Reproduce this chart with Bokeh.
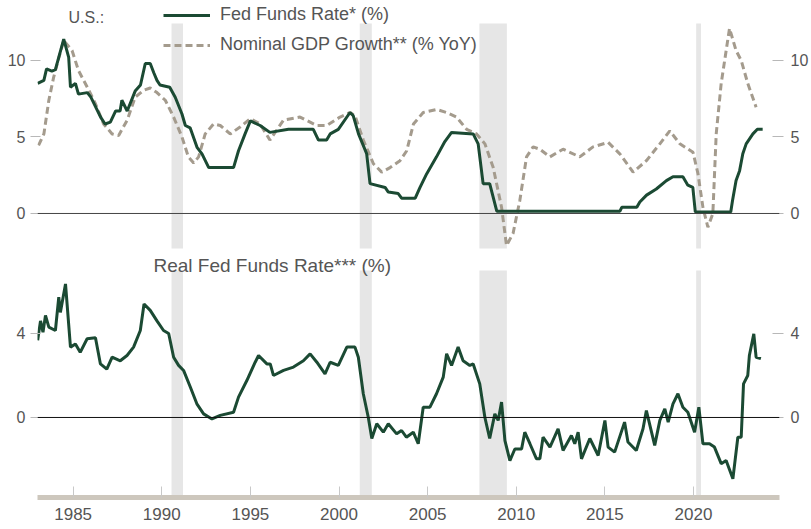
from bokeh.plotting import figure
from bokeh.models import Range1d, FixedTicker, LinearAxis, Span, Label, Legend, LegendItem
from bokeh.layouts import column
from bokeh.embed import file_html
from bokeh.resources import INLINE

# ---------------- data ----------------
ff_year = [1983.0, 1983.35, 1983.5, 1983.8, 1984.0, 1984.47, 1984.75, 1984.85, 1985.13, 1985.3,
           1985.8, 1986.0, 1986.55, 1986.8, 1987.1, 1987.4, 1987.65, 1987.75, 1988.05, 1988.5,
           1988.8, 1989.07, 1989.35, 1989.55, 1989.73, 1989.9, 1990.45, 1990.76, 1991.14, 1991.33,
           1991.6, 1992.0, 1992.27, 1992.65, 1994.05, 1994.33, 1994.7, 1995.0, 1995.55, 1996.1,
           1997.15, 1998.55, 1998.84, 1999.3, 1999.5, 1999.96, 2000.62, 2000.8, 2001.1, 2001.56,
           2001.75, 2002.6, 2002.78, 2003.34, 2003.53, 2004.3, 2004.57, 2004.95, 2005.5, 2005.97,
           2006.35, 2007.57, 2007.85, 2008.13, 2008.5, 2008.9, 2015.85, 2015.95, 2016.8, 2016.97,
           2017.35, 2017.9, 2018.47, 2018.84, 2019.4, 2019.68, 2019.96, 2020.1, 2022.1, 2022.2,
           2022.4, 2022.6, 2022.78, 2022.97, 2023.35, 2023.6, 2023.9]
ff_val = [8.5, 8.7, 9.45, 9.3, 9.4, 11.4, 10.2, 8.25, 8.5, 7.8,
          7.9, 7.6, 6.3, 5.85, 5.97, 6.7, 6.7, 7.4, 6.7, 8.0,
          8.4, 9.8, 9.8, 9.2, 8.7, 8.4, 8.25, 7.6, 6.5, 5.75,
          5.6, 4.3, 3.9, 3.0, 3.0, 4.1, 5.2, 6.05, 5.75, 5.3,
          5.5, 5.5, 4.8, 4.8, 5.2, 5.5, 6.6, 6.4, 5.2, 3.9,
          1.95, 1.7, 1.4, 1.3, 1.0, 1.0, 1.7, 2.6, 3.7, 4.7,
          5.3, 5.2, 4.55, 1.95, 1.95, 0.15, 0.15, 0.4, 0.4, 0.75,
          1.2, 1.6, 2.15, 2.4, 2.4, 1.85, 1.7, 0.1, 0.1, 0.85,
          2.15, 2.8, 3.9, 4.55, 5.2, 5.5, 5.5]

gdp_year = [1983.05, 1983.35, 1983.63, 1983.9, 1984.2, 1984.47, 1984.94, 1985.3, 1985.8, 1986.25,
            1986.72, 1987.2, 1987.57, 1988.05, 1988.5, 1988.98, 1989.35, 1989.73, 1990.2, 1990.67,
            1991.14, 1991.5, 1991.8, 1992.08, 1992.45, 1992.92, 1993.3, 1993.86, 1994.42, 1994.99,
            1995.55, 1996.1, 1996.87, 1997.8, 1998.75, 1999.3, 2000.06, 2000.62, 2000.9, 2001.37,
            2001.94, 2002.41, 2002.88, 2003.44, 2003.82, 2004.2, 2004.75, 2005.5, 2006.07, 2006.63,
            2007.2, 2007.76, 2008.23, 2008.7, 2009.17, 2009.45, 2009.82, 2010.2, 2010.58, 2010.95,
            2011.33, 2011.9, 2012.64, 2013.58, 2014.33, 2015.18, 2015.84, 2016.59, 2017.34, 2018.1,
            2018.66, 2019.23, 2019.97, 2020.25, 2020.53, 2020.81, 2021.09, 2021.28, 2021.56, 2022.03,
            2022.4, 2022.69, 2023.06, 2023.53]
gdp_val = [4.45, 5.2, 7.4, 8.9, 10.2, 11.3, 10.65, 9.35, 8.25, 7.2,
           5.85, 5.2, 5.1, 6.1, 7.6, 8.05, 8.2, 7.9, 7.4, 6.3,
           5.0, 3.7, 3.3, 3.7, 5.2, 5.85, 5.75, 5.2, 5.65, 6.2,
           5.85, 4.8, 6.1, 6.3, 5.75, 5.75, 6.3, 6.6, 6.4, 4.8,
           3.25, 2.7, 3.0, 3.45, 4.1, 5.85, 6.6, 6.8, 6.6, 6.3,
           5.5, 5.2, 4.55, 3.0, 0.4, -2.1, -1.3, 0.85, 3.7, 4.35,
           4.2, 3.7, 4.2, 3.7, 4.35, 4.65, 3.9, 2.7, 3.45, 4.55,
           5.4, 4.55, 4.0, 2.6, 0.4, -0.9, 0.0, 5.2, 8.5, 12.1,
           10.65, 10.0, 8.5, 6.95]

real_year = [1983.0, 1983.16, 1983.3, 1983.44, 1983.63, 1984.0, 1984.19, 1984.28, 1984.57, 1984.85,
             1985.13, 1985.4, 1985.79, 1986.26, 1986.54, 1986.9, 1987.2, 1987.66, 1988.04, 1988.41,
             1988.79, 1989.0, 1989.35, 1989.73, 1990.1, 1990.39, 1990.67, 1990.95, 1991.23, 1991.61,
             1991.98, 1992.36, 1992.83, 1993.3, 1994.05, 1994.33, 1994.8, 1995.27, 1995.46, 1995.93,
             1996.12, 1996.3, 1996.87, 1997.43, 1997.99, 1998.37, 1998.75, 1999.21, 1999.5, 1999.96,
             2000.44, 2000.9, 2001.09, 2001.37, 2001.65, 2001.85, 2002.13, 2002.5, 2002.78, 2003.25,
             2003.53, 2003.8, 2004.19, 2004.47, 2004.75, 2005.13, 2005.5, 2005.88, 2006.07, 2006.35,
             2006.72, 2007.0, 2007.38, 2007.57, 2007.94, 2008.23, 2008.5, 2008.79, 2008.98, 2009.17,
             2009.36, 2009.64, 2009.92, 2010.3, 2010.48, 2010.77, 2011.14, 2011.33, 2011.51, 2011.9,
             2012.36, 2012.64, 2013.11, 2013.3, 2013.49, 2013.68, 2014.15, 2014.62, 2015.0, 2015.18,
             2015.55, 2016.11, 2016.3, 2016.77, 2017.15, 2017.34, 2017.81, 2018.1, 2018.38, 2018.57,
             2018.84, 2019.12, 2019.4, 2019.68, 2020.06, 2020.3, 2020.53, 2020.9, 2021.18, 2021.56,
             2021.84, 2022.22, 2022.5, 2022.69, 2022.82, 2023.06, 2023.15, 2023.4, 2023.53, 2023.8]
real_val = [3.67, 4.6, 4.06, 4.86, 4.3, 4.14, 5.73, 5.0, 6.36, 3.35,
            3.5, 3.1, 3.75, 3.8, 2.55, 2.3, 2.87, 2.7, 2.95, 3.35,
            4.14, 5.4, 5.1, 4.6, 4.14, 4.0, 2.87, 2.48, 2.24, 1.45,
            0.65, 0.17, -0.07, 0.1, 0.25, 0.97, 1.76, 2.63, 2.95, 2.55,
            2.55, 2.0, 2.24, 2.4, 2.7, 3.03, 2.63, 2.08, 2.63, 2.48,
            3.35, 3.35, 2.87, 1.13, 0.01, -1.0, -0.3, -0.7, -0.3, -0.78,
            -0.62, -0.94, -0.7, -1.25, 0.49, 0.49, 1.13, 1.92, 3.03, 2.48,
            3.35, 2.7, 2.48, 2.55, 1.6, 0.0, -1.0, 0.17, -0.14, 0.73,
            -1.1, -2.05, -1.5, -1.5, -0.7, -1.25, -1.97, -1.97, -0.94, -1.41,
            -0.54, -1.57, -0.86, -1.25, -0.7, -1.97, -1.0, -1.81, -0.14, -1.41,
            -1.65, -0.22, -1.17, -1.57, -0.54, 0.33, -1.33, -0.14, 0.41, -0.22,
            0.65, 1.13, 0.49, 0.25, -0.7, 0.49, -1.25, -1.25, -1.41, -2.2,
            -2.05, -2.92, -0.94, -0.94, 1.6, 2.0, 2.95, 3.98, 2.87, 2.8]

rec_start = [1990.55, 2001.17, 2007.92, 2020.15]
rec_end = [1991.2, 2001.85, 2009.47, 2020.42]

top_ticks = [0, 5, 10]
bottom_ticks = [0, 4]
year_ticks = [1985, 1990, 1995, 2000, 2005, 2010, 2015, 2020]

# ---------------- style ----------------
GREEN = "#1b4a33"
GDPC = "#a49b8d"
TXT = "#555555"
FONT = "Liberation Sans"
BAND = "#e6e6e6"

x_range = Range1d(1982.99, 2024.85)


def style_yaxis(ax, side):
    ax.axis_line_color = None
    ax.major_tick_line_color = "#b8b8b8"
    ax.minor_tick_line_color = None
    ax.major_label_text_font = FONT
    ax.major_label_text_font_size = "16px"
    ax.major_label_text_color = TXT
    if side == "left":
        ax.major_tick_out = 7
        ax.major_tick_in = 3
        ax.major_label_standoff = 5
    else:
        ax.major_tick_out = 4
        ax.major_tick_in = 7
        ax.major_label_standoff = 7


# ---------------- top panel ----------------
p1 = figure(width=811, height=250, x_range=x_range, y_range=Range1d(-2.42, 13.92),
            x_axis_type=None, y_axis_type=None, output_backend="svg", toolbar_location=None,
            min_border_left=37, min_border_right=31, min_border_top=0, min_border_bottom=0)
p1.outline_line_color = None
p1.background_fill_color = "white"
p1.border_fill_color = "white"

for side in ("left", "right"):
    ax = LinearAxis(ticker=FixedTicker(ticks=top_ticks))
    style_yaxis(ax, side)
    p1.add_layout(ax, side)

p1.quad(left=rec_start, right=rec_end, bottom=-2.29, top=12.42, fill_color=BAND, line_color=None)
p1.add_layout(Span(location=0, dimension="width", line_color="#444444", line_width=1))

r_gdp = p1.line(gdp_year, gdp_val, line_color=GDPC, line_width=3, line_dash="7 4")
r_ff = p1.line(ff_year, ff_val, line_color=GREEN, line_width=3)

legend = Legend(items=[LegendItem(label="Fed Funds Rate* (%)", renderers=[r_ff]),
                       LegendItem(label="Nominal GDP Growth** (% YoY)", renderers=[r_gdp])],
                location=(126, 195), orientation="vertical",
                glyph_width=47, glyph_height=20, label_height=20, label_standoff=10,
                spacing=9, padding=0, margin=0, border_line_color=None,
                background_fill_alpha=0,
                label_text_font=FONT, label_text_font_size="18px", label_text_color=TXT)
p1.add_layout(legend)

p1.add_layout(Label(x=1984.74, y=12.8, text="U.S.:", text_font=FONT, text_font_size="16px",
                    text_color=TXT, text_baseline="middle"))

# ---------------- bottom panel ----------------
p2 = figure(width=811, height=278, x_range=x_range, y_range=Range1d(-3.81, 7.95),
            y_axis_type=None, output_backend="svg", toolbar_location=None,
            min_border_left=37, min_border_right=31, min_border_top=0, min_border_bottom=31)
p2.outline_line_color = None
p2.xgrid.grid_line_color = None

for side in ("left", "right"):
    ax = LinearAxis(ticker=FixedTicker(ticks=bottom_ticks))
    style_yaxis(ax, side)
    p2.add_layout(ax, side)

xa = p2.xaxis[0]
xa.ticker = FixedTicker(ticks=year_ticks)
xa.axis_line_color = "#cdc7bd"
xa.axis_line_width = 5
xa.major_tick_in = 11
xa.major_tick_out = 0
xa.major_tick_line_color = "#c8c8c8"
xa.minor_tick_line_color = None
xa.major_label_standoff = 10
xa.major_label_text_font = FONT
xa.major_label_text_font_size = "17px"
xa.major_label_text_color = TXT

p2.quad(left=rec_start, right=rec_end, bottom=-3.85, top=7.0, fill_color=BAND, line_color=None)
p2.add_layout(Span(location=0, dimension="width", line_color="#111111", line_width=1))
p2.line(real_year, real_val, line_color=GREEN, line_width=3)

p2.add_layout(Label(x=1989.53, y=7.24, text="Real Fed Funds Rate*** (%)", text_font=FONT,
                    text_font_size="19px", text_color=TXT, text_baseline="middle"))

layout = column(p1, p2, spacing=0)
open("out.html", "w").write(file_html(layout, INLINE))
